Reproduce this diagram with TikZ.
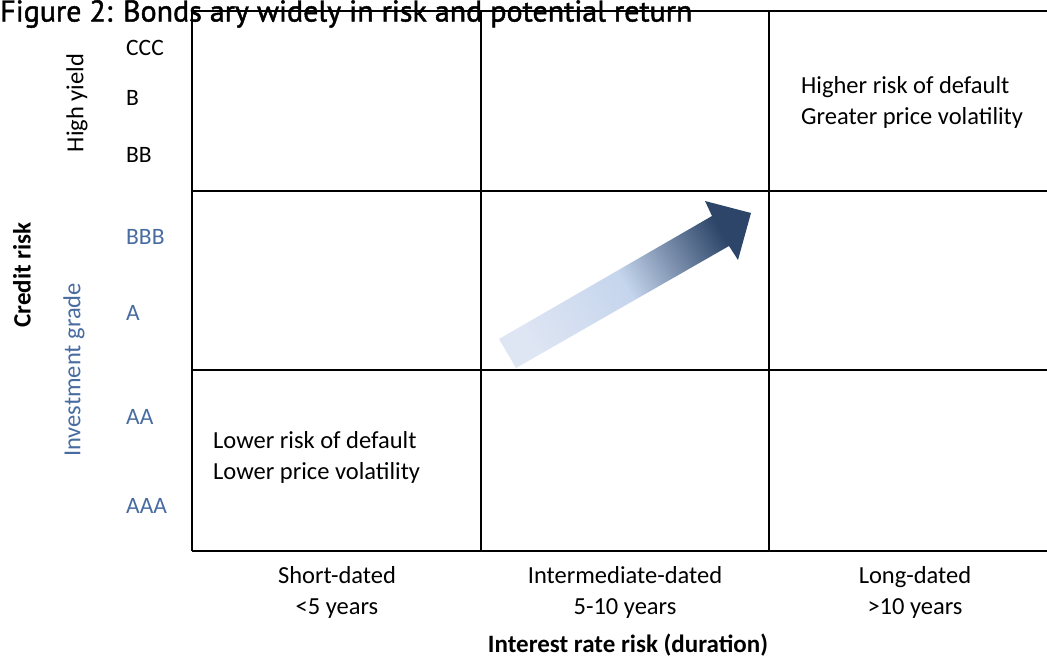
\documentclass[tikz,border=0pt]{standalone}
\usepackage{fontspec}
\setmainfont{Carlito}
\newfontfamily\titlefont[FakeBold=1.5]{PT Sans}
\definecolor{gradeblue}{RGB}{72,108,160}
\definecolor{arrowlight}{RGB}{222,229,243}
\definecolor{arrowmid}{RGB}{197,213,237}
\definecolor{arrowdark}{RGB}{44,69,104}
\begin{document}
\begin{tikzpicture}[x=1pt, y=-1pt,
    grid/.style={line width=2.4pt},
    rating/.style={anchor=west, inner sep=0pt, font=\fontsize{23.5}{28}\selectfont},
    igrade/.style={rating, text=gradeblue},
    note/.style={anchor=west, align=left, inner sep=0pt, font=\fontsize{24.5}{31}\selectfont},
    axislab/.style={align=center, font=\fontsize{24.5}{31}\selectfont},
    axistitle/.style={font=\bfseries\fontsize{25}{28}\selectfont}]
\useasboundingbox (0,0) rectangle (1047,657);

% grid
\draw[grid] (192,11)--(1047,11);
\draw[grid] (192,191)--(1047,191);
\draw[grid] (192,370)--(1047,370);
\draw[grid] (192,551)--(1047,551);
\draw[grid] (192,11)--(192,551);
\draw[grid] (481,11)--(481,551);
\draw[grid] (769,11)--(769,551);

% title
\node[anchor=west, inner sep=0pt, font=\titlefont\fontsize{30}{32}\selectfont] (title) at (0,14) {Figure 2: Bonds ary widely in risk and potential return};

% ratings
\node[rating] (ccc) at (126,48) {CCC};
\node[rating] (b) at (126,98) {B};
\node[rating] (bb) at (126,155) {BB};
\node[igrade] (bbb) at (126,237) {BBB};
\node[igrade] (a) at (126,313) {A};
\node[igrade] (aa) at (126,417) {AA};
\node[igrade] (aaa) at (126,506) {AAA};

\node[rotate=90, font=\fontsize{24.5}{28}\selectfont] (hy) at (77,103) {High yield};
\node[rotate=90, text=gradeblue, font=\fontsize{24.5}{28}\selectfont] (ig) at (74,370) {Investment grade};
\node[rotate=90, axistitle] (credit) at (22,275) {Credit risk};

% cell notes
\node[note] (high) at (801,102) {Higher risk of default\\Greater price volatility};
\node[note] (low) at (213,457) {Lower risk of default\\Lower price volatility};

% duration
\node[axislab] (short) at (337,592) {Short-dated\\{<}5 years};
\node[axislab] (inter) at (625,592) {Intermediate-dated\\5-10 years};
\node[axislab] (long) at (915,592) {Long-dated\\{>}10 years};
\node[axistitle] (dur) at (628,645) {Interest rate risk (duration)};

% risk arrow
\shade[top color=arrowlight, bottom color=arrowdark, middle color=arrowmid, shading angle=120]
  (499,339)--(712,216)--(705,201)--(751,213)--(738,260)--(729,246)--(516,368)--cycle;
\end{tikzpicture}
\end{document}
